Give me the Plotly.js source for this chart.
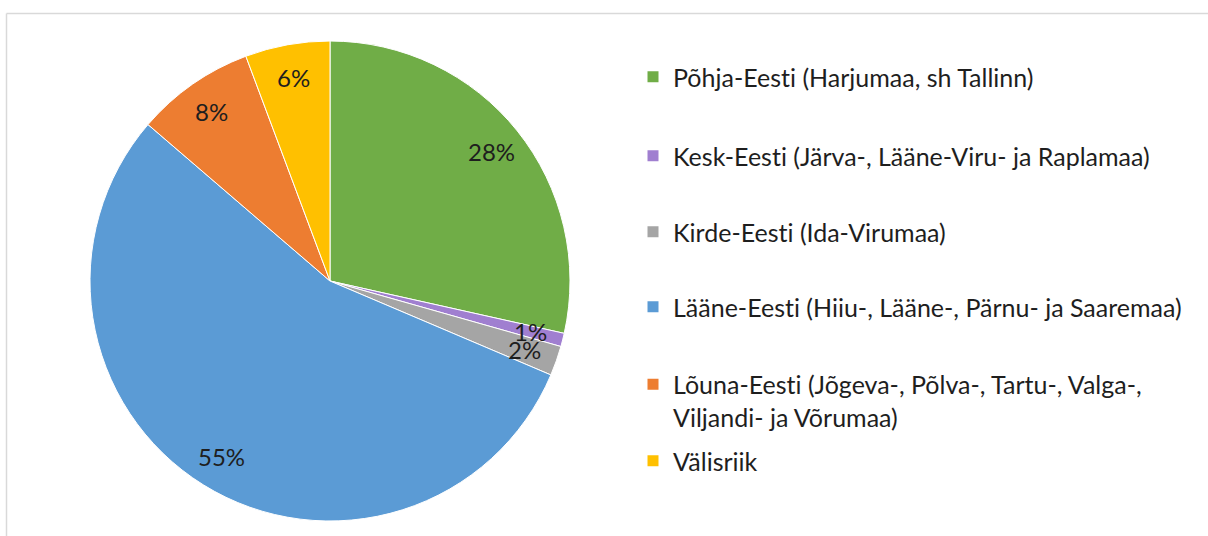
<!DOCTYPE html>
<html>
<head>
<meta charset="utf-8">
<script src="https://cdn.plot.ly/plotly-3.0.1.min.js"></script>
<style>html,body{margin:0;padding:0;background:#fff;}#chart{width:1208px;height:536px;}#chart text{font-variant-ligatures:none;font-feature-settings:"liga" 0;}</style>
</head>
<body>
<div id="chart"></div>
<script>
const regions = [
  "Põhja-Eesti (Harjumaa, sh Tallinn)",
  "Kesk-Eesti (Järva-, Lääne-Viru- ja Raplamaa)",
  "Kirde-Eesti (Ida-Virumaa)",
  "Lääne-Eesti (Hiiu-, Lääne-, Pärnu- ja Saaremaa)",
  "Lõuna-Eesti (Jõgeva-, Põlva-, Tartu-, Valga-,<br>Viljandi- ja Võrumaa)",
  "Välisriik"
];
const shares = [28.5, 0.9, 2.0, 54.9, 8.0, 5.7];
const colors = ["#70AD47", "#A07FD0", "#A5A5A5", "#5B9BD5", "#ED7D31", "#FFC000"];

const W = 1208, H = 536;
const cx = 330, cy = 281, R = 240;
const FONT = "Lato, 'Open Sans', sans-serif";
const TXT = "#1e1e1e";

const pie = {
  type: "pie",
  values: shares,
  labels: regions,
  marker: {colors: colors, line: {color: "#ffffff", width: 1}},
  sort: false,
  direction: "clockwise",
  rotation: 0,
  textinfo: "none",
  hoverinfo: "label+percent",
  showlegend: false,
  domain: {x: [(cx - R) / W, (cx + R) / W], y: [1 - (cy + R) / H, 1 - (cy - R) / H]}
};

// percentage labels placed at slice mid-angles (derived from the data)
const total = shares.reduce((a, b) => a + b, 0);
let cum = 0;
const annotations = shares.map((v, i) => {
  const mid = (cum + v / 2) / total * 2 * Math.PI;
  cum += v;
  const r = 0.86 * R;
  const px = cx + r * Math.sin(mid);
  const py = cy - r * Math.cos(mid);
  return {
    x: px / W, y: 1 - py / H, xref: "paper", yref: "paper",
    text: Math.round(v / total * 100) + "%", showarrow: false,
    xanchor: "center", yanchor: "middle",
    font: {family: FONT, size: 24, color: TXT}
  };
});

// legend entries
const legendY = [77, 156, 232, 307, 400.5, 461];
const traces = [pie];
const layout = {
  width: W, height: H,
  margin: {l: 0, r: 0, t: 0, b: 0},
  paper_bgcolor: "#ffffff", plot_bgcolor: "#ffffff",
  xaxis: {visible: false, range: [0, 1]},
  yaxis: {visible: false, range: [0, 1]},
  annotations: annotations,
  shapes: [
    {type: "line", xref: "paper", yref: "paper", x0: 6.5 / W, x1: 1.01, y0: 1 - 13.5 / H, y1: 1 - 13.5 / H, line: {color: "#d9d9d9", width: 1.5}},
    {type: "line", xref: "paper", yref: "paper", x0: 6.5 / W, x1: 6.5 / W, y0: 1 - 13.5 / H, y1: -0.01, line: {color: "#d9d9d9", width: 1.5}}
  ]
};
regions.forEach((name, i) => {
  const key = i === 0 ? "legend" : "legend" + (i + 1);
  traces.push({
    type: "scatter", mode: "markers", x: [null], y: [null],
    name: name, legend: key,
    marker: {symbol: "square", size: 11, color: colors[i]},
    hoverinfo: "skip"
  });
  layout[key] = {
    x: 633 / W, xanchor: "left",
    y: 1 - legendY[i] / H, yanchor: "middle",
    valign: "top",
    bgcolor: "rgba(0,0,0,0)", borderwidth: 0,
    itemwidth: 30,
    font: {family: FONT, size: 25, color: TXT}
  };
});

Plotly.newPlot("chart", traces, layout, {staticPlot: true, displayModeBar: false});
</script>
</body>
</html>
